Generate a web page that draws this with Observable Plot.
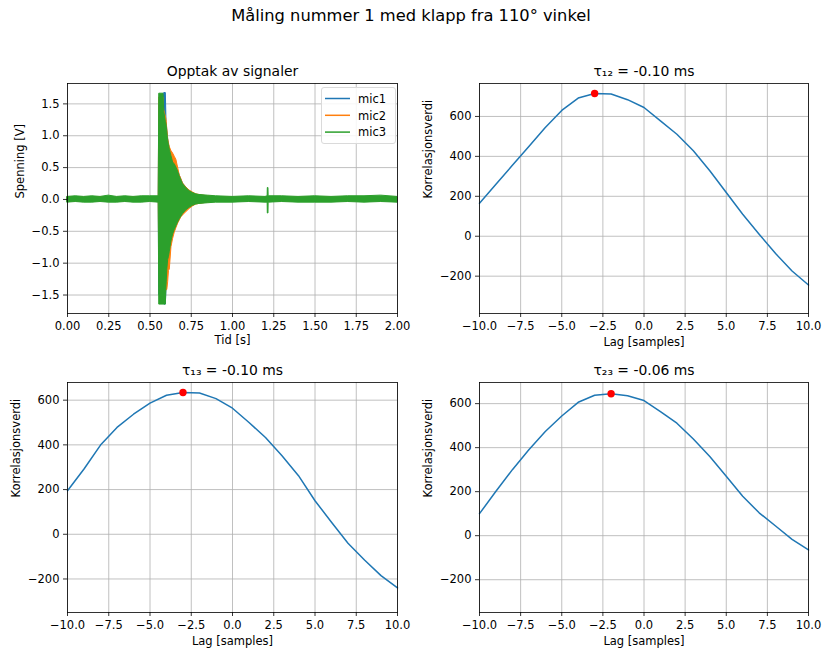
<!DOCTYPE html>
<html>
<head>
<meta charset="utf-8">
<script src="https://cdn.jsdelivr.net/npm/d3@7"></script>
<script src="https://cdn.jsdelivr.net/npm/@observablehq/plot@0.6"></script>
<style>
  body { margin: 0; background: #fff; font-family: "DejaVu Sans", sans-serif; }
  #fig { position: relative; width: 822px; height: 650px; overflow: hidden; background: #fff; }
  #fig > svg { position: absolute; }
  .suptitle { position: absolute; left: 0; top: 6px; width: 822px; text-align: center; font-size: 16.3px; color: #000; line-height: 20px; }
  .legend { position: absolute; left: 321px; top: 87px; width: 75px; height: 57px; border: 1px solid #dadada; border-radius: 3px; background: rgba(255,255,255,0.85); box-sizing: border-box; }
  .legend svg { position: absolute; left: 0; top: 0; }
</style>
</head>
<body>
<div id="fig">
  <div class="suptitle">Måling nummer 1 med klapp fra 110° vinkel</div>
</div>
<script>
// ---- Signal recording: envelope of each microphone channel (V) at time knots (s)
const mics = ["mic1", "mic2", "mic3"];
const micColors = ["#1f77b4", "#ff7f0e", "#2ca02c"];

const tid = [0.00, 0.05, 0.10, 0.15, 0.20, 0.25, 0.30, 0.35, 0.40, 0.45, 0.50,
  0.553, 0.556, 0.582, 0.586, 0.596,
  0.600, 0.605, 0.610, 0.615, 0.620,
  0.630, 0.640, 0.650, 0.660, 0.670, 0.680, 0.690, 0.700,
  0.720, 0.740, 0.760, 0.780, 0.800,
  0.850, 0.900, 1.000, 1.100, 1.200,
  1.213, 1.214, 1.218, 1.219,
  1.300, 1.400, 1.500, 1.600, 1.700, 1.800, 1.900, 2.000];

const mic1Hi = [0.03,0.03,0.03,0.03,0.03,0.03,0.03,0.03,0.03,0.03,0.03,
  0.03,1.50,1.50,1.67,1.67,
  1.22,1.08,0.95,0.86,0.80,
  0.70,0.60,0.55,0.50,0.45,0.38,0.31,0.25,
  0.18,0.13,0.10,0.07,0.06,
  0.04,0.03,0.03,0.03,0.03,
  0.03,0.03,0.03,0.03,
  0.03,0.03,0.03,0.03,0.03,0.03,0.03,0.03];
const mic1Lo = [-0.03,-0.03,-0.03,-0.03,-0.03,-0.03,-0.03,-0.03,-0.03,-0.03,-0.03,
  -0.03,-1.50,-1.50,-1.65,-1.65,
  -1.38,-1.15,-0.98,-0.92,-0.84,
  -0.68,-0.56,-0.50,-0.43,-0.37,-0.32,-0.27,-0.23,
  -0.17,-0.13,-0.10,-0.07,-0.06,
  -0.04,-0.03,-0.03,-0.03,-0.03,
  -0.03,-0.03,-0.03,-0.03,
  -0.03,-0.03,-0.03,-0.03,-0.03,-0.03,-0.03,-0.03];

const mic2Hi = [0.03,0.035,0.03,0.03,0.035,0.03,0.03,0.03,0.035,0.03,0.03,
  0.03,1.60,1.60,1.40,1.30,
  1.25,1.10,0.95,0.88,0.82,
  0.76,0.72,0.67,0.62,0.50,0.38,0.32,0.25,
  0.19,0.14,0.11,0.08,0.07,
  0.05,0.035,0.03,0.03,0.03,
  0.03,0.03,0.03,0.03,
  0.03,0.03,0.035,0.03,0.03,0.03,0.035,0.03];
const mic2Lo = [-0.03,-0.03,-0.035,-0.03,-0.03,-0.03,-0.035,-0.03,-0.03,-0.03,-0.03,
  -0.03,-1.00,-1.10,-1.40,-1.45,
  -1.42,-1.42,-1.30,-1.12,-1.10,
  -0.75,-0.62,-0.52,-0.45,-0.38,-0.33,-0.28,-0.25,
  -0.20,-0.15,-0.11,-0.08,-0.07,
  -0.05,-0.035,-0.03,-0.03,-0.03,
  -0.03,-0.03,-0.03,-0.03,
  -0.03,-0.035,-0.03,-0.03,-0.03,-0.03,-0.03,-0.03];

const mic3Hi = [0.04,0.05,0.04,0.05,0.04,0.06,0.04,0.05,0.04,0.05,0.05,
  0.05,1.66,1.66,1.38,1.22,
  1.18,1.05,0.92,0.85,0.78,
  0.68,0.58,0.55,0.50,0.44,0.36,0.30,0.24,
  0.18,0.13,0.10,0.08,0.07,
  0.06,0.05,0.04,0.05,0.04,
  0.05,0.18,0.18,0.05,
  0.05,0.04,0.05,0.04,0.05,0.05,0.06,0.04];
const mic3Lo = [-0.05,-0.04,-0.05,-0.05,-0.04,-0.05,-0.05,-0.04,-0.05,-0.05,-0.04,
  -0.05,-1.65,-1.65,-1.65,-1.65,
  -1.35,-1.10,-0.95,-0.90,-0.82,
  -0.66,-0.55,-0.48,-0.42,-0.36,-0.31,-0.27,-0.23,
  -0.17,-0.13,-0.10,-0.08,-0.07,
  -0.06,-0.05,-0.05,-0.04,-0.05,
  -0.05,-0.22,-0.22,-0.05,
  -0.04,-0.05,-0.05,-0.05,-0.04,-0.05,-0.04,-0.05];

const envHi = [mic1Hi, mic2Hi, mic3Hi];
const envLo = [mic1Lo, mic2Lo, mic3Lo];

// ---- Cross-correlation around the peak
const lags = [-10,-9,-8,-7,-6,-5,-4,-3,-2,-1,0,1,2,3,4,5,6,7,8,9,10];
const corr12 = [165,260,355,450,545,630,692,715,712,684,645,578,511,428,328,219,110,10,-87,-174,-244];
const corr13 = [195,292,399,478,537,587,622,634,632,607,564,500,433,351,262,150,54,-40,-115,-185,-240];
const corr23 = [100,202,300,390,473,544,606,638,645,636,614,564,511,439,360,270,179,104,44,-17,-65];
const corrTitles = ["τ₁₂", "τ₁₃", "τ₂₃"];
const tauMs = [-0.10, -0.10, -0.06];

// ---- Tick positions
const timeTicks = [0, 0.25, 0.5, 0.75, 1.0, 1.25, 1.5, 1.75, 2.0];
const voltTicks = [-1.5, -1.0, -0.5, 0, 0.5, 1.0, 1.5];
const lagTicks = [-10, -7.5, -5, -2.5, 0, 2.5, 5, 7.5, 10];
const corrTicks = [-200, 0, 200, 400, 600];

const fig = document.getElementById("fig");
const gridStyle = {stroke: "#b0b0b0", strokeOpacity: 1, strokeWidth: 0.8};
const axisStyle = {tickSize: 4, tickPadding: 4, strokeWidth: 0.8, label: null, fontSize: 11.5};

function place(svg, left, top) {
  svg.style.left = left + "px";
  svg.style.top = top + "px";
  fig.appendChild(svg);
}

function panelOptions(left, marks, xDomain, yDomain) {
  return {
    width: 411, height: 304,
    marginLeft: left ? 67 : 68, marginRight: 14, marginTop: 35, marginBottom: 39,
    x: {type: "linear", domain: xDomain},
    y: {type: "linear", domain: yDomain},
    style: {fontFamily: "DejaVu Sans, sans-serif", fontSize: "11.5px", color: "black", background: "transparent", overflow: "visible"},
    marks
  };
}

// ---- Top left: recorded signals
{
  const rows = [];
  mics.forEach((m, k) => tid.forEach((t, i) => rows.push({mic: m, t, lo: envLo[k][i], hi: envHi[k][i]})));
  const marks = [
    Plot.gridX(timeTicks, gridStyle),
    Plot.gridY(voltTicks, gridStyle),
    ...mics.map((m, k) => Plot.areaY(rows.filter(d => d.mic === m), {
      x: "t", y1: "lo", y2: "hi", fill: micColors[k], stroke: micColors[k], strokeWidth: 1, curve: "linear"
    })),
    Plot.frame({stroke: "black", strokeWidth: 0.8}),
    Plot.axisX(timeTicks, {...axisStyle, tickFormat: d3.format(".2f")}),
    Plot.axisY(voltTicks, {...axisStyle, tickFormat: d3.format(".1f")}),
    Plot.text(["Opptak av signaler"], {frameAnchor: "top", dy: -12, lineAnchor: "middle", fontSize: 13.9, text: d => d}),
    Plot.text(["Tid [s]"], {frameAnchor: "bottom", dy: 27, lineAnchor: "middle", fontSize: 11.5, text: d => d}),
    Plot.text(["Spenning [V]"], {frameAnchor: "left", dx: -47, rotate: -90, lineAnchor: "middle", fontSize: 11.5, text: d => d})
  ];
  place(Plot.plot(panelOptions(true, marks, [0, 2], [-1.79, 1.82])), 0, 48);
}

// ---- Correlation panels
function corrPanel(values, k, left, top, yDomain, ylabelDx) {
  const rows = lags.map((lag, i) => ({lag, v: values[i]}));
  const peak = rows[d3.maxIndex(values)];
  const title = `${corrTitles[k]} = ${tauMs[k].toFixed(2)} ms`;
  const marks = [
    Plot.gridX(lagTicks, gridStyle),
    Plot.gridY(corrTicks, gridStyle),
    Plot.line(rows, {x: "lag", y: "v", stroke: "#1f77b4", strokeWidth: 1.5}),
    Plot.dot([peak], {x: "lag", y: "v", r: 3.7, fill: "red"}),
    Plot.frame({stroke: "black", strokeWidth: 0.8}),
    Plot.axisX(lagTicks, {...axisStyle, tickFormat: d3.format(".1f")}),
    Plot.axisY(corrTicks, {...axisStyle, tickFormat: d3.format("d")}),
    Plot.text([title], {frameAnchor: "top", dy: -12, lineAnchor: "middle", fontSize: 13.9, text: d => d}),
    Plot.text(["Lag [samples]"], {frameAnchor: "bottom", dy: 29, lineAnchor: "middle", fontSize: 11.5, text: d => d}),
    Plot.text(["Korrelasjonsverdi"], {frameAnchor: "left", dx: ylabelDx, rotate: -90, lineAnchor: "middle", fontSize: 11.5, text: d => d})
  ];
  place(Plot.plot(panelOptions(left === 0, marks, [-10, 10], yDomain)), left, top);
}

corrPanel(corr12, 0, 411, 48, [-387, 765], -51);
corrPanel(corr13, 1, 0, 347, [-350, 679], -51);
corrPanel(corr23, 2, 411, 347, [-349, 696], -51);

// ---- Legend for the signal panel
{
  const lg = document.createElement("div");
  lg.className = "legend";
  const ns = "http://www.w3.org/2000/svg";
  const svg = document.createElementNS(ns, "svg");
  svg.setAttribute("width", 75);
  svg.setAttribute("height", 57);
  mics.forEach((m, k) => {
    const cy = 10.5 + k * 16.8;
    const line = document.createElementNS(ns, "line");
    line.setAttribute("x1", 3); line.setAttribute("x2", 28);
    line.setAttribute("y1", cy); line.setAttribute("y2", cy);
    line.setAttribute("stroke", micColors[k]);
    line.setAttribute("stroke-width", 1.5);
    svg.appendChild(line);
    const txt = document.createElementNS(ns, "text");
    txt.setAttribute("x", 36);
    txt.setAttribute("y", cy + 4.2);
    txt.setAttribute("font-size", "11.5px");
    txt.setAttribute("font-family", "DejaVu Sans, sans-serif");
    txt.textContent = m;
    svg.appendChild(txt);
  });
  lg.appendChild(svg);
  fig.appendChild(lg);
}
</script>
</body>
</html>
